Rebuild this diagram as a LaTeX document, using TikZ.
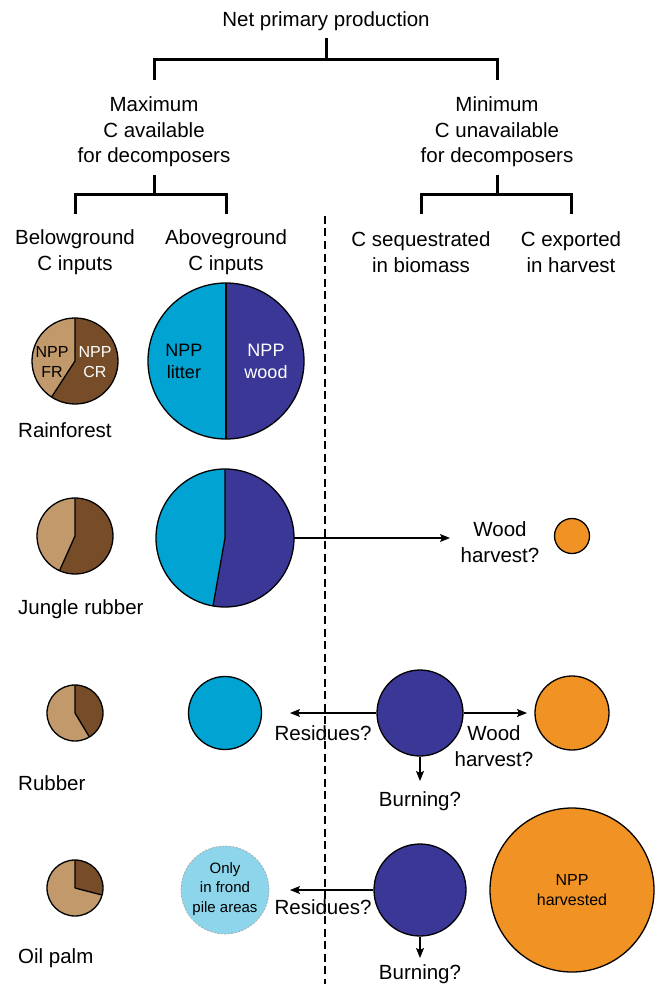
\documentclass[tikz,border=0pt]{standalone}
\usepackage{fontspec}
\setmainfont{Liberation Sans}
\usetikzlibrary{arrows.meta}
\definecolor{lbrown}{RGB}{193,153,107}
\definecolor{dbrown}{RGB}{118,77,40}
\definecolor{cyanlit}{RGB}{0,163,210}
\definecolor{dblue}{RGB}{58,55,150}
\definecolor{orng}{RGB}{240,146,36}
\definecolor{frond}{RGB}{141,213,234}
\newcommand{\pietwo}[5]{%
  \fill[#4] (#1.center) -- ++(90:#2) arc[start angle=90,end angle=#3,radius=#2] -- cycle;
  \fill[#5] (#1.center) -- ++(#3:#2) arc[start angle=#3,end angle=450,radius=#2] -- cycle;
  \draw[line width=1.3pt] (#1.center) -- ++(90:#2) (#1.center) -- ++(#3:#2);
  \draw[line width=1.3pt] (#1.center) circle[radius=#2];
}
\begin{document}
\begin{tikzpicture}[x=1pt,y=-1pt,
  lbl/.style={font=\fontsize{20.5}{25.5}\selectfont, align=center, inner sep=0pt},
  small/.style={font=\fontsize{16}{19.5}\selectfont, align=center, inner sep=0pt},
  mid/.style={font=\fontsize{18}{22}\selectfont, align=center, inner sep=0pt},
  tiny/.style={font=\fontsize{15}{19.5}\selectfont, align=center, inner sep=0pt},
  bracket/.style={line width=3pt},
  slot/.style={circle, inner sep=0pt, minimum size=#1},
  ring/.style={circle, inner sep=0pt, draw=black, line width=1.3pt},
  arr/.style={line width=1.1pt, -{Stealth[length=10pt,width=8pt,inset=2pt]}},
  divider/.style={line width=2.7pt, dash pattern=on 8pt off 4.5pt}]
\useasboundingbox (0,0) rectangle (654,984);

% ---- tree ----
\node[lbl] (npp) at (326,21) {Net primary production};
\node[lbl] (maxC) at (154,132) {Maximum\\C available\\for decomposers};
\node[lbl] (minC) at (497,132) {Minimum\\C unavailable\\for decomposers};
\node[lbl] (below) at (75,252) {Belowground\\C inputs};
\node[lbl] (above) at (226,252) {Aboveground\\C inputs};
\node[lbl] (seq) at (421,252) {C sequestrated\\in biomass};
\node[lbl] (exp) at (571,252) {C exported\\in harvest};

\coordinate (t0) at (326,38);
\coordinate (t1) at (326,60);
\coordinate (tL) at (154,80);
\coordinate (tR) at (497,80);
\draw[bracket] (t0) -- (t1);
\draw[bracket] (tL) |- (t1) -| (tR);

\coordinate (m0) at (154,175);
\coordinate (m1) at (154,195);
\coordinate (mL) at (75,214);
\coordinate (mR) at (226,214);
\draw[bracket] (m0) -- (m1);
\draw[bracket] (mL) |- (m1) -| (mR);

\coordinate (n0) at (497,175);
\coordinate (n1) at (497,195);
\coordinate (nL) at (421,214);
\coordinate (nR) at (571,214);
\draw[bracket] (n0) -- (n1);
\draw[bracket] (nL) |- (n1) -| (nR);

% divider
\coordinate (dTop) at (325,216);
\coordinate (dBot) at (325,984);
\draw[divider] (dTop) -- (dBot);

% ---- Rainforest ----
\node[slot=86pt] (rfBelow) at (75,361) {};
\pietwo{rfBelow}{43pt}{237}{lbrown}{dbrown}
\node[small] at (52,362) {NPP\\FR};
\node[small, text=white] at (95,362) {NPP\\CR};
\node[slot=156pt] (rfAbove) at (226,361) {};
\pietwo{rfAbove}{78pt}{270}{cyanlit}{dblue}
\node[mid] at (184,361) {NPP\\litter};
\node[mid, text=white] at (266,361) {NPP\\wood};
\node[lbl, anchor=west] (rfLab) at (18,430) {Rainforest};

% ---- Jungle rubber ----
\node[slot=76pt] (jrBelow) at (75,536) {};
\pietwo{jrBelow}{38pt}{246}{lbrown}{dbrown}
\node[slot=138pt] (jrAbove) at (225,538) {};
\pietwo{jrAbove}{69pt}{260}{cyanlit}{dblue}
\node[lbl, anchor=west] (jrLab) at (18,609) {Jungle rubber};
\coordinate (jrEnd) at (450,538);
\draw[arr] (jrAbove.east) -- (jrEnd);
\node[lbl] (jrWood) at (500,542) {Wood\\harvest?};
\node[ring, fill=orng, minimum size=35pt] (jrHarv) at (572,536) {};

% ---- Rubber ----
\node[slot=56pt] (rbBelow) at (75,713) {};
\pietwo{rbBelow}{28pt}{301}{lbrown}{dbrown}
\node[ring, fill=cyanlit, minimum size=73pt] (rbAbove) at (225,713) {};
\node[lbl, anchor=west] (rbLab) at (18,783) {Rubber};
\node[ring, fill=dblue, minimum size=86pt] (rbBio) at (420,713) {};
\node[ring, fill=orng, minimum size=74pt] (rbHarv) at (572,713) {};
\coordinate (rbResEnd) at (290,713);
\coordinate (rbWoodEnd) at (527,713);
\coordinate (rbBurnEnd) at (420,781);
\draw[arr] (rbBio.west) -- (rbResEnd);
\draw[arr] (rbBio.east) -- (rbWoodEnd);
\draw[arr] (rbBio.south) -- (rbBurnEnd);
\node[lbl] (rbRes) at (323,733) {Residues?};
\node[lbl] (rbWood) at (494,746) {Wood\\harvest?};
\node[lbl] (rbBurn) at (420,801) {Burning?};

% ---- Oil palm ----
\node[slot=56pt] (opBelow) at (75,888) {};
\pietwo{opBelow}{28pt}{345.5}{lbrown}{dbrown}
\node[circle, inner sep=0pt, minimum size=88pt, fill=frond, draw=gray!70,
      line width=0.7pt, dash pattern=on 2pt off 1.5pt] (opAbove) at (225,890) {};
\node[tiny] at (225,889) {Only\\in frond\\pile areas};
\node[lbl, anchor=west] (opLab) at (18,958) {Oil palm};
\node[ring, fill=dblue, minimum size=92pt] (opBio) at (420,890) {};
\node[ring, fill=orng, minimum size=164pt] (opHarv) at (572,890) {};
\node[small] at (572,890) {NPP\\harvested};
\coordinate (opResEnd) at (290,890);
\coordinate (opBurnEnd) at (420,958);
\draw[arr] (opBio.west) -- (opResEnd);
\draw[arr] (opBio.south) -- (opBurnEnd);
\node[lbl] (opRes) at (323,907) {Residues?};
\node[lbl] (opBurn) at (420,974) {Burning?};
\end{tikzpicture}
\end{document}
